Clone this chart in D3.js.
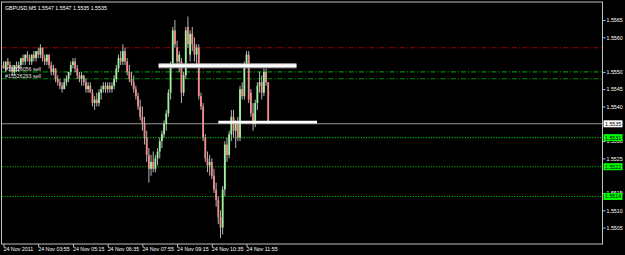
<!DOCTYPE html>
<html>
<head>
<meta charset="utf-8">
<script src="https://cdn.jsdelivr.net/npm/d3@7"></script>
<style>
  body { margin: 0; background: #000; }
  svg { display: block; }
  text { font-family: "Liberation Sans", Arial, sans-serif; font-size: 5.3px; }
</style>
</head>
<body>
<div id="graph"></div>
<script>
// GBPUSD M5 bars
var opens = [1.5552,1.5551,1.5553,1.5552,1.5551,1.5550,1.5552,1.5551,1.5552,1.5554,
  1.5553,1.5555,1.5554,1.5553,1.5555,1.5554,1.5556,1.5555,1.5557,1.5554,
  1.5553,1.5555,1.5552,1.5550,1.5551,1.5548,1.5547,1.5546,1.5545,1.5547,
  1.5548,1.5550,1.5552,1.5553,1.5551,1.5549,1.5548,1.5549,1.5547,1.5545,
  1.5546,1.5544,1.5541,1.5542,1.5541,1.5544,1.5545,1.5546,1.5545,1.5546,
  1.5545,1.5546,1.5548,1.5551,1.5554,1.5553,1.5556,1.5553,1.5550,1.5548,
  1.5547,1.5545,1.5543,1.5540,1.5537,1.5535,1.5531,1.5526,1.5522,1.5524,
  1.5522,1.5525,1.5527,1.5530,1.5532,1.5535,1.5538,1.5544,1.5552,1.5562,
  1.5557,1.5553,1.5553,1.5544,1.5549,1.5563,1.5555,1.5561,1.5558,1.5555,
  1.5557,1.5543,1.5540,1.5531,1.5525,1.5523,1.5524,1.5520,1.5516,1.5513,
  1.5508,1.5505,1.5516,1.5529,1.5526,1.5532,1.5537,1.5533,1.5535,1.5531,
  1.5545,1.5543,1.5552,1.5555,1.5544,1.5538,1.5535,1.5541,1.5546,1.5547,
  1.5544,1.5550,1.5547];
var highs = [1.5553,1.5553,1.5554,1.5553,1.5552,1.5552,1.5553,1.5553,1.5554,1.5555,
  1.5555,1.5556,1.5555,1.5555,1.5556,1.5556,1.5557,1.5558,1.5557,1.5555,
  1.5555,1.5555,1.5553,1.5552,1.5551,1.5549,1.5548,1.5547,1.5548,1.5549,
  1.5550,1.5553,1.5554,1.5554,1.5552,1.5550,1.5550,1.5549,1.5548,1.5547,
  1.5547,1.5545,1.5543,1.5544,1.5545,1.5546,1.5547,1.5547,1.5547,1.5547,
  1.5547,1.5549,1.5552,1.5555,1.5556,1.5558,1.5557,1.5554,1.5552,1.5550,
  1.5549,1.5546,1.5544,1.5542,1.5540,1.5537,1.5533,1.5528,1.5526,1.5527,
  1.5526,1.5528,1.5531,1.5533,1.5536,1.5539,1.5545,1.5553,1.5563,1.5565,
  1.5559,1.5556,1.5554,1.5550,1.5563,1.5566,1.5562,1.5563,1.5560,1.5558,
  1.5558,1.5544,1.5541,1.5532,1.5527,1.5526,1.5525,1.5522,1.5518,1.5514,
  1.5510,1.5517,1.5530,1.5531,1.5533,1.5539,1.5539,1.5536,1.5537,1.5546,
  1.5547,1.5553,1.5556,1.5556,1.5545,1.5541,1.5542,1.5547,1.5550,1.5549,
  1.5551,1.5551,1.5547];
var lows = [1.5551,1.5550,1.5551,1.5550,1.5549,1.5549,1.5550,1.5550,1.5551,1.5552,
  1.5552,1.5553,1.5552,1.5552,1.5553,1.5553,1.5554,1.5554,1.5553,1.5552,
  1.5552,1.5551,1.5549,1.5549,1.5547,1.5546,1.5545,1.5544,1.5545,1.5546,
  1.5547,1.5549,1.5551,1.5550,1.5548,1.5547,1.5546,1.5546,1.5544,1.5544,
  1.5544,1.5540,1.5539,1.5540,1.5540,1.5542,1.5544,1.5544,1.5544,1.5544,
  1.5544,1.5545,1.5547,1.5550,1.5552,1.5552,1.5552,1.5549,1.5547,1.5546,
  1.5544,1.5542,1.5539,1.5536,1.5533,1.5529,1.5524,1.5518,1.5520,1.5521,
  1.5521,1.5523,1.5525,1.5528,1.5531,1.5533,1.5537,1.5542,1.5551,1.5557,
  1.5552,1.5550,1.5541,1.5543,1.5548,1.5557,1.5553,1.5556,1.5553,1.5552,
  1.5542,1.5539,1.5530,1.5524,1.5521,1.5520,1.5519,1.5515,1.5511,1.5506,
  1.5502,1.5503,1.5514,1.5524,1.5525,1.5530,1.5531,1.5528,1.5530,1.5530,
  1.5542,1.5542,1.5551,1.5541,1.5537,1.5533,1.5534,1.5539,1.5544,1.5542,
  1.5543,1.5546,1.5535];
var closes = [1.5551,1.5553,1.5552,1.5551,1.5550,1.5552,1.5551,1.5552,1.5554,1.5553,
  1.5555,1.5554,1.5553,1.5555,1.5554,1.5556,1.5555,1.5557,1.5554,1.5553,
  1.5555,1.5552,1.5550,1.5551,1.5548,1.5547,1.5546,1.5545,1.5547,1.5548,
  1.5550,1.5552,1.5553,1.5551,1.5549,1.5548,1.5549,1.5547,1.5545,1.5546,
  1.5544,1.5541,1.5542,1.5541,1.5544,1.5545,1.5546,1.5545,1.5546,1.5545,
  1.5546,1.5548,1.5551,1.5554,1.5553,1.5556,1.5553,1.5550,1.5548,1.5547,
  1.5545,1.5543,1.5540,1.5537,1.5535,1.5531,1.5526,1.5522,1.5524,1.5522,
  1.5525,1.5527,1.5530,1.5532,1.5535,1.5538,1.5544,1.5552,1.5562,1.5558,
  1.5553,1.5555,1.5544,1.5549,1.5562,1.5558,1.5561,1.5558,1.5555,1.5557,
  1.5543,1.5540,1.5531,1.5525,1.5523,1.5524,1.5520,1.5516,1.5513,1.5508,
  1.5505,1.5516,1.5529,1.5526,1.5532,1.5537,1.5533,1.5535,1.5531,1.5545,
  1.5543,1.5552,1.5555,1.5542,1.5538,1.5535,1.5541,1.5546,1.5547,1.5544,
  1.5550,1.5547,1.5535];

var priceTicks = [1.5565, 1.5560, 1.5550, 1.5545, 1.5540, 1.5530, 1.5525, 1.5515, 1.5510, 1.5505];
var timeTickBars = [0, 16, 32, 48, 64, 80, 96, 112];
var timeTickLabels = ["24 Nov 2011", "24 Nov 03:55", "24 Nov 05:15", "24 Nov 06:35",
  "24 Nov 07:55", "24 Nov 09:15", "24 Nov 10:35", "24 Nov 11:55"];
var title = "GBPUSD,M5  1.5547 1.5547 1.5535 1.5535";

var stopLevel = 1.5557;
var orderLevels = [1.5550, 1.5548];
var orderLabels = ["#15526056 sell", "#15526293 sell"];
var targetLevels = [1.5531, 1.55226, 1.5514];
var targetLabels = ["1.5531", "1.5522", "1.5514"];
var lastPrice = 1.5535;
// the two white zone lines (bar index from/to, price)
var zoneFrom = [71.5, 99];
var zoneTo = [135, 144.5];
var zonePrice = [1.55518, 1.55355];

var width = 625;
var height = 255;
var right = 602.5;
var bottom = 244;

var svg = d3.select("#graph").append("svg")
  .attr("width", width)
  .attr("height", height);

svg.append("rect")
  .attr("width", width)
  .attr("height", height)
  .attr("fill", "#000");

var x = d3.scaleLinear().domain([0, 276]).range([3.5, 602.4]);
var y = d3.scaleLinear().domain([1.5505, 1.5565]).range([227.6, 20]);

var bars = closes.map(function(c, i) {
  return {i: i, o: opens[i], h: highs[i], l: lows[i], c: c};
});

//horizontal level lines, behind the candles
function levelLine(price, color, dash) {
  svg.append("line")
    .attr("x1", 2).attr("x2", right)
    .attr("y1", y(price)).attr("y2", y(price))
    .attr("stroke", color)
    .attr("stroke-width", 1.1)
    .attr("stroke-dasharray", dash);
}
levelLine(stopLevel, "#a00000", "5,2,1.2,2");
orderLevels.forEach(function(p) { levelLine(p, "#008a00", "5,2,1.2,2"); });
targetLevels.forEach(function(p) { levelLine(p, "#00c000", "1.1,1.5"); });
levelLine(lastPrice, "#999", null);

//candles
svg.selectAll(".wick")
  .data(bars)
  .join("line")
  .attr("class", "wick")
  .attr("x1", function(d) { return x(d.i); })
  .attr("x2", function(d) { return x(d.i); })
  .attr("y1", function(d) { return y(d.h); })
  .attr("y2", function(d) { return y(d.l); })
  .attr("stroke", "#c8c8c8")
  .attr("stroke-width", 0.9);

svg.selectAll(".body")
  .data(bars)
  .join("rect")
  .attr("class", "body")
  .attr("x", function(d) { return x(d.i) - 0.9; })
  .attr("width", 1.8)
  .attr("y", function(d) { return y(Math.max(d.o, d.c)); })
  .attr("height", function(d) { return Math.max(0.8, Math.abs(y(d.o) - y(d.c))); })
  .attr("fill", function(d) { return d.c >= d.o ? "#a0f0a0" : "#f48c8c"; });

//white zone lines on top
zonePrice.forEach(function(p, k) {
  if (k == 0) {
    svg.append("line")
      .attr("x1", x(zoneFrom[k])).attr("x2", x(zoneTo[k]))
      .attr("y1", y(p)).attr("y2", y(p))
      .attr("stroke", "#b0b0b0")
      .attr("stroke-width", 5);
  }
  svg.append("line")
    .attr("x1", x(zoneFrom[k])).attr("x2", x(zoneTo[k]))
    .attr("y1", y(p)).attr("y2", y(p))
    .attr("stroke", "#fff")
    .attr("stroke-width", 2.8);
});

//order labels
orderLevels.forEach(function(p, k) {
  svg.append("text")
    .attr("x", 5)
    .attr("y", y(p) - 1)
    .attr("fill", "#e0e0e0")
    .text(orderLabels[k]);
});

//frame
svg.append("rect")
  .attr("x", 1.5).attr("y", 2)
  .attr("width", right - 1.5)
  .attr("height", bottom - 2)
  .attr("fill", "none")
  .attr("stroke", "#c0c0c0")
  .attr("stroke-width", 1);

//price axis
var yAxis = svg.append("g")
  .attr("transform", "translate(" + right + ",0)")
  .call(d3.axisRight(y).tickValues(priceTicks).tickSize(3).tickPadding(1)
    .tickFormat(d3.format(".4f")));
yAxis.select(".domain").remove();
yAxis.selectAll("line").attr("stroke", "#c0c0c0");
yAxis.selectAll("text").attr("fill", "#fff").style("font-size", "5.3px")
  .style("font-family", "Liberation Sans, Arial, sans-serif");

//time axis
var xAxis = svg.append("g")
  .attr("transform", "translate(0," + bottom + ")")
  .call(d3.axisBottom(x).tickValues(timeTickBars).tickSize(3).tickPadding(0)
    .tickFormat(function(d, i) { return timeTickLabels[i]; }));
xAxis.select(".domain").remove();
xAxis.selectAll("line").attr("stroke", "#c0c0c0");
xAxis.selectAll("text")
  .attr("fill", "#fff")
  .attr("text-anchor", "start")
  .attr("x", -0.5)
  .style("font-size", "5.3px")
  .style("font-family", "Liberation Sans, Arial, sans-serif");

//price tags at the right, drawn over the axis labels like the terminal does
function priceTag(price, label, bg) {
  svg.append("rect")
    .attr("x", 603.5).attr("y", y(price) - 3.5)
    .attr("width", 19).attr("height", 7)
    .attr("fill", bg);
  svg.append("text")
    .attr("x", 605).attr("y", y(price) + 2)
    .attr("fill", "#000")
    .text(label);
}
targetLevels.forEach(function(p, k) { priceTag(p, targetLabels[k], "#00ff00"); });
priceTag(lastPrice, d3.format(".4f")(lastPrice), "#fff");

//title
svg.append("text")
  .attr("x", 5)
  .attr("y", 9.5)
  .attr("fill", "#fff")
  .text(title);
</script>
</body>
</html>
